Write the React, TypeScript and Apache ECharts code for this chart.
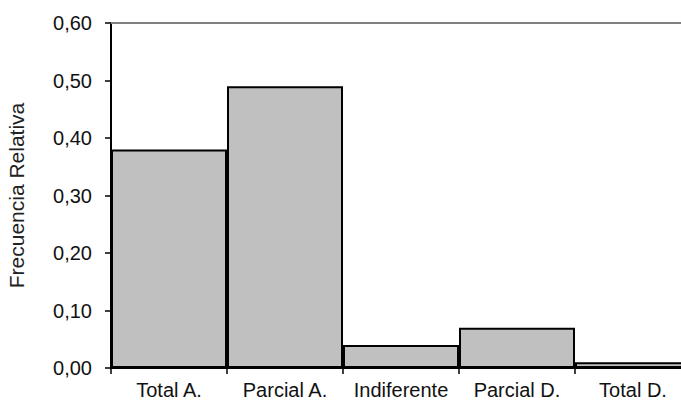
import React, { useEffect, useRef } from "react";
import * as echarts from "echarts";

const categories = ["Total A.", "Parcial A.", "Indiferente", "Parcial D.", "Total D."];
const values = [0.38, 0.49, 0.04, 0.07, 0.01];
const yTicks = { min: 0, max: 0.6, interval: 0.1 };
const yName = "Frecuencia Relativa";

export default function App() {
  const ref = useRef<HTMLDivElement>(null);
  useEffect(() => {
    if (!ref.current) return;
    const chart = echarts.init(ref.current, null, { renderer: "svg" });
    const font = "Liberation Sans, Arial, sans-serif";
    chart.setOption({
      animation: false,
      backgroundColor: "#ffffff",
      grid: {
        left: 111,
        top: 23,
        bottom: 35,
        right: -10,
        containLabel: false,
        outerBoundsMode: "none",
      },
      xAxis: [
        {
          type: "category",
          data: categories,
          position: "bottom",
          axisLine: { show: true, lineStyle: { color: "#000", width: 2 } },
          axisTick: { show: true, alignWithLabel: false, length: 6, lineStyle: { color: "#000", width: 1.5 } },
          axisLabel: { color: "#111", fontSize: 20, fontFamily: font, margin: 12, interval: 0, hideOverlap: false },
          splitLine: { show: false },
        },
        {
          type: "category",
          data: categories,
          position: "top",
          axisLine: { show: true, lineStyle: { color: "#808080", width: 2 } },
          axisTick: { show: false },
          axisLabel: { show: false },
        },
      ],
      yAxis: {
        type: "value",
        min: yTicks.min,
        max: yTicks.max,
        interval: yTicks.interval,
        name: yName,
        nameLocation: "middle",
        nameGap: 84,
        nameRotate: 90,
        nameTextStyle: { color: "#222", fontSize: 21, fontFamily: font },
        axisLine: { show: true, lineStyle: { color: "#000", width: 2 } },
        axisTick: { show: true, length: 6, lineStyle: { color: "#000", width: 1.5 } },
        axisLabel: {
          color: "#111",
          fontSize: 20,
          fontFamily: font,
          margin: 19,
          formatter: (v: number) => v.toFixed(2).replace(".", ","),
        },
        splitLine: { show: false },
      },
      series: [
        {
          type: "bar",
          data: values,
          barCategoryGap: "0%",
          itemStyle: { color: "#c0c0c0", borderColor: "#000", borderWidth: 2 },
        },
      ],
    });
    return () => chart.dispose();
  }, []);
  return (
    <div
      ref={ref}
      style={{ position: "absolute", left: 0, top: 0, width: 681, height: 403 }}
    />
  );
}
